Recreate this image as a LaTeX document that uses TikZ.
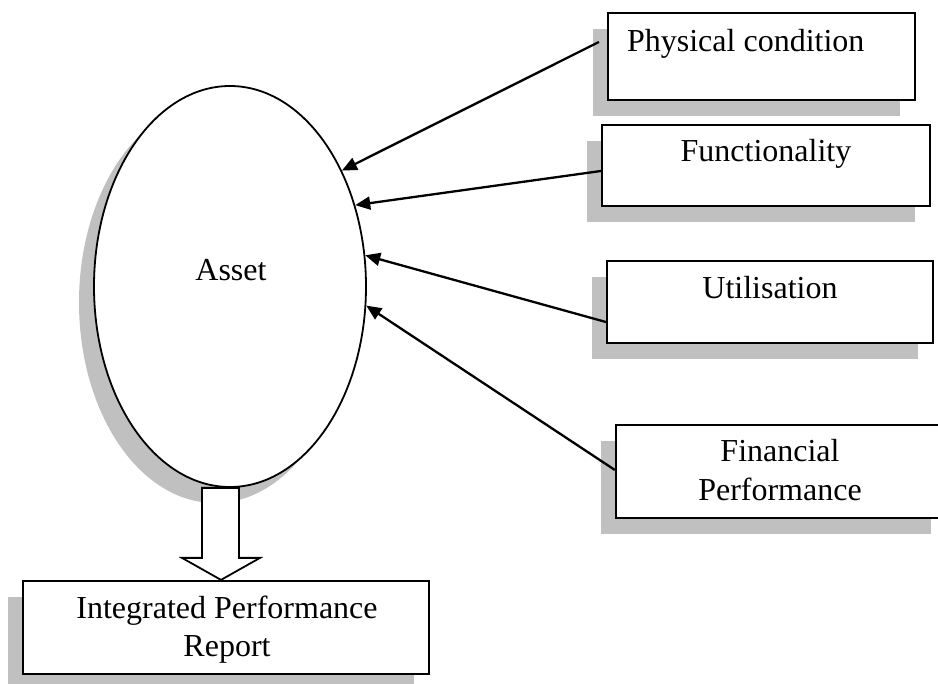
\documentclass[tikz,border=0pt]{standalone}
\usepackage{fontspec}
\setmainfont{Liberation Serif}
\usetikzlibrary{shadows,calc,arrows.meta,shapes.geometric}

\definecolor{shadowgray}{RGB}{192,192,192}

\tikzset{
  shadowed/.style={drop shadow={shadow xshift=-15pt, shadow yshift=-16pt,
      fill=shadowgray, opacity=1}},
  textbox/.style={shadowed, draw=black, fill=white, line width=2.2pt,
      rectangle, inner sep=0pt},
  assetshape/.style={shadowed, draw=black, fill=white, line width=1.8pt,
      ellipse, inner sep=0pt, minimum width=272pt, minimum height=401pt},
  label text/.style={font=\fontsize{32}{38}\selectfont, inner sep=0pt},
  feed/.style={line width=2.3pt, -{Triangle[length=15pt,width=13pt]}},
  blockarrow/.style={draw=black, fill=white, line width=1.8pt, line join=miter},
}

\begin{document}
\begin{tikzpicture}[x=1pt,y=-1pt]
  \useasboundingbox (0,0) rectangle (938,684);

  % central asset
  \node[assetshape] (asset) at (230,286.5) {};
  \node[label text, anchor=base] (assettxt) at ([shift={(1pt,5.5pt)}]asset.center) {Asset};

  % input boxes
  \node[textbox, minimum width=307pt, minimum height=87pt] (phys) at (761.5,56.5) {};
  \node[label text, anchor=base west] (physt) at ([shift={(20pt,-40pt)}]phys.north west) {Physical condition};

  \node[textbox, minimum width=328pt, minimum height=81pt] (func) at (766,165.5) {};
  \node[label text, anchor=base] (funct) at ([yshift=-38pt]func.north) {Functionality};

  \node[textbox, minimum width=326pt, minimum height=82pt] (util) at (770,302) {};
  \node[label text, anchor=base] (utilt) at ([yshift=-39pt]util.north) {Utilisation};

  \node[textbox, minimum width=330pt, minimum height=93pt] (fin) at (781,471.5) {};
  \node[label text, anchor=base] (fint1) at ([shift={(-1pt,-38pt)}]fin.north) {Financial};
  \node[label text, anchor=base] (fint2) at ([shift={(-1pt,-77pt)}]fin.north) {Performance};

  % output report
  \node[textbox, minimum width=406pt, minimum height=93pt] (report) at (226,627.5) {};
  \node[label text, anchor=base] (rept1) at ([shift={(1pt,-39pt)}]report.north) {Integrated Performance};
  \node[label text, anchor=base] (rept2) at ([shift={(1pt,-77pt)}]report.north) {Report};

  % feeds into the asset
  \draw[feed] ([shift={(-8pt,14.5pt)}]phys.west) -- (asset.46.6);
  \draw[feed] ([yshift=-5.5pt]func.west) -- (asset.33.4);
  \draw[feed] ([yshift=-20pt]util.west) -- (asset.13.9);
  \draw[feed] ([yshift=1.5pt]fin.west) -- (asset.-8.6);

  % block arrow from asset to report
  \coordinate (ba) at ([xshift=-9.5pt]asset.south);
  \coordinate (bb) at ([xshift=-5pt]report.north);
  \draw[blockarrow] ($(ba)+(-18.5pt,0pt)$) |- ($(bb)+(-39pt,22pt)$)
      -- (bb) -- ($(bb)+(39pt,22pt)$) -| ($(ba)+(18.5pt,0pt)$) -- cycle;
\end{tikzpicture}
\end{document}
